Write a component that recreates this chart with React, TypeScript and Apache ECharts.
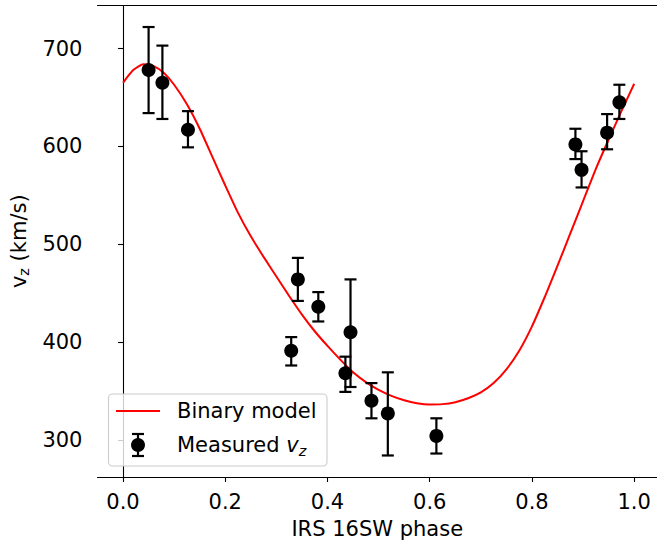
import React, { useEffect, useRef } from "react";
import * as echarts from "echarts";

// Binary model curve
const modelPhase = [
  0, 0.02, 0.04, 0.06, 0.08, 0.1, 0.125, 0.15, 0.175, 0.2, 0.225, 0.25, 0.275, 0.3, 0.325, 0.35,
  0.375, 0.4, 0.425, 0.45, 0.475, 0.5, 0.525, 0.55, 0.575, 0.6, 0.625, 0.65, 0.675, 0.7, 0.725,
  0.75, 0.775, 0.8, 0.825, 0.85, 0.875, 0.9, 0.925, 0.95, 0.975, 1.0,
];
const modelVz = [
  665, 678, 684, 682, 675, 663, 643, 618, 589, 560, 532, 508, 487, 467, 447, 428,
  411, 396, 382, 369, 359, 351, 345, 340.5, 337.5, 336.2, 336.5, 338.5, 342.5, 348.5, 358,
  372, 391, 416, 446, 478, 511, 544, 577, 607, 636, 664,
];

// Measured points with error bars
const obsPhase = [0.05, 0.077, 0.127, 0.329, 0.342, 0.382, 0.435, 0.445, 0.486, 0.518, 0.613, 0.885, 0.897, 0.947, 0.971];
const obsVz = [678, 665, 617, 391, 464, 436, 368, 410, 340, 327, 304, 602, 576, 614, 645];
const obsLow = [634, 628, 599, 376, 442, 421, 349, 354, 322, 284, 286, 587, 558, 597, 628];
const obsHigh = [722, 703, 636, 405, 486, 451, 385, 464, 358, 369, 322, 618, 595, 633, 663];

const xTicks = [0, 0.2, 0.4, 0.6, 0.8, 1.0];
const yTicks = [300, 400, 500, 600, 700];

const FONT = "DejaVu Sans";
const FS = 21;

export default function App() {
  const ref = useRef<HTMLDivElement>(null);
  useEffect(() => {
    document.body.style.margin = "0";
    const chart = echarts.init(ref.current!, null, { renderer: "svg" });
    const modelData = modelPhase.map((p, i) => [p, modelVz[i]]);
    const obsData = obsPhase.map((p, i) => [p, obsVz[i], obsLow[i], obsHigh[i]]);
    const xMin = -0.05;
    const xMax = 1.0446;
    const axisLine = { show: true, lineStyle: { color: "#000", width: 1.1 } };
    const eb = { stroke: "#000", lineWidth: 2.2 };
    chart.setOption({
      animation: false,
      grid: { left: 97, right: 0, top: 5.5, bottom: 66.7 },
      xAxis: [
        {
          type: "value",
          min: xMin,
          max: xMax,
          position: "bottom",
          axisLine,
          axisTick: { show: true, length: 5, lineStyle: { color: "#000", width: 1.1 }, customValues: xTicks },
          axisLabel: {
            customValues: xTicks,
            margin: 14,
            fontFamily: FONT,
            fontSize: FS,
            color: "#000",
            formatter: (v: number) => v.toFixed(1),
          },
          splitLine: { show: false },
          name: "IRS 16SW phase",
          nameLocation: "middle",
          nameGap: 41,
          nameTextStyle: { fontFamily: FONT, fontSize: FS, color: "#000" },
        },
        {
          type: "value",
          min: xMin,
          max: xMax,
          position: "top",
          axisLine,
          axisTick: { show: false },
          axisLabel: { show: false },
          splitLine: { show: false },
        },
      ],
      yAxis: {
        type: "value",
        min: 262,
        max: 744,
        axisLine,
        axisTick: { show: true, length: 5, lineStyle: { color: "#000", width: 1.1 }, customValues: yTicks },
        axisLabel: { customValues: yTicks, margin: 15, fontFamily: FONT, fontSize: FS, color: "#000" },
        splitLine: { show: false },
        name: "{v|v}{z|z}{a| (km/s)}",
        nameLocation: "middle",
        nameGap: 64,
        nameTextStyle: {
          fontFamily: FONT,
          fontSize: FS,
          color: "#000",
          rich: {
            v: { fontFamily: FONT, fontSize: FS, color: "#000", lineHeight: 26 },
            z: { fontFamily: FONT, fontSize: 14.5, color: "#000", lineHeight: 14, verticalAlign: "bottom" },
            a: { fontFamily: FONT, fontSize: FS, color: "#000", lineHeight: 26 },
          },
        },
      },
      series: [
        {
          type: "line",
          name: "Binary model",
          data: modelData,
          showSymbol: false,
          smooth: 0.2,
          lineStyle: { color: "#ff0000", width: 2 },
          z: 2,
        },
        {
          type: "custom",
          name: "Measured",
          data: obsData,
          encode: { x: 0, y: 1 },
          clip: false,
          z: 3,
          renderItem: (params: any, api: any) => {
            const x = api.value(0);
            const p = api.coord([x, api.value(1)]);
            const lo = api.coord([x, api.value(2)]);
            const hi = api.coord([x, api.value(3)]);
            const cw = 6;
            return {
              type: "group",
              children: [
                { type: "line", shape: { x1: p[0], y1: hi[1], x2: p[0], y2: lo[1] }, style: eb },
                { type: "line", shape: { x1: p[0] - cw, y1: hi[1], x2: p[0] + cw, y2: hi[1] }, style: eb },
                { type: "line", shape: { x1: p[0] - cw, y1: lo[1], x2: p[0] + cw, y2: lo[1] }, style: eb },
                { type: "circle", shape: { cx: p[0], cy: p[1], r: 7 }, style: { fill: "#000" } },
              ],
            };
          },
        },
      ],
      graphic: [
        {
          type: "rect",
          shape: { x: 108.5, y: 394, width: 218.5, height: 72, r: 4 },
          style: { fill: "rgba(255,255,255,0.8)", stroke: "#cccccc", lineWidth: 1.1 },
          z: 10,
        },
        { type: "line", z: 11, shape: { x1: 116, y1: 411, x2: 160, y2: 411 }, style: { stroke: "#ff0000", lineWidth: 2 } },
        { type: "line", z: 11, shape: { x1: 138, y1: 434, x2: 138, y2: 456 }, style: eb },
        { type: "line", z: 11, shape: { x1: 132, y1: 434, x2: 144, y2: 434 }, style: eb },
        { type: "line", z: 11, shape: { x1: 132, y1: 456, x2: 144, y2: 456 }, style: eb },
        { type: "circle", z: 12, shape: { cx: 138, cy: 445, r: 7 }, style: { fill: "#000" } },
        {
          type: "text",
          x: 177,
          y: 411,
          z: 11,
          style: { text: "Binary model", fontFamily: FONT, fontSize: FS, fill: "#000", verticalAlign: "middle" },
        },
        {
          type: "text",
          x: 177,
          y: 445,
          z: 11,
          style: {
            text: "{a|Measured }{v|v}{z|z}",
            fontFamily: FONT,
            fontSize: FS,
            fill: "#000",
            verticalAlign: "middle",
            rich: {
              a: { fontFamily: FONT, fontSize: FS, fill: "#000", lineHeight: 26 },
              v: { fontFamily: FONT, fontSize: FS, fontStyle: "italic", fill: "#000", lineHeight: 26 },
              z: { fontFamily: FONT, fontSize: 14.5, fontStyle: "italic", fill: "#000", lineHeight: 14, verticalAlign: "bottom" },
            },
          },
        },
      ],
    });
    return () => chart.dispose();
  }, []);
  return <div ref={ref} style={{ position: "absolute", left: 0, top: 0, width: 657, height: 544 }} />;
}
